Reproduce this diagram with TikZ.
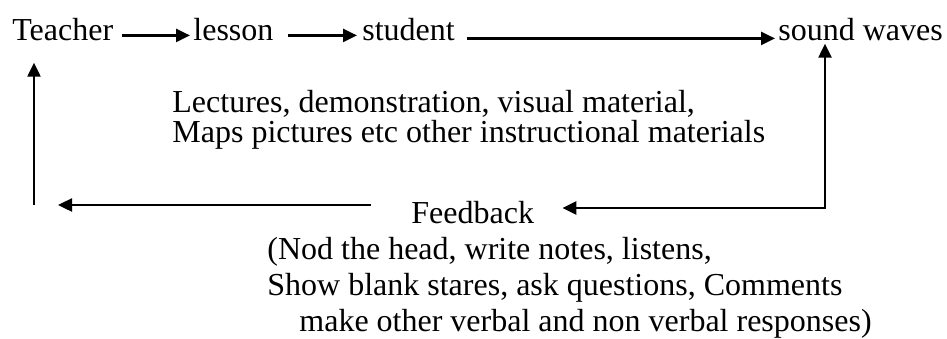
\documentclass[tikz,border=0pt]{standalone}
\usepackage{fontspec}
\setmainfont{Liberation Serif}
\usetikzlibrary{arrows.meta}

\begin{document}
\begin{tikzpicture}[x=0.5pt,y=-0.5pt,
	>={Triangle[length=7pt,width=6.5pt]},
	every node/.style={inner sep=0pt,anchor=base west,font=\fontsize{16pt}{19pt}\selectfont},
	flow/.style={->,line width=1.2pt}]

	\useasboundingbox (0,0) rectangle (947,338);

	% Node definitions.
	\node       (teacher) at (12,40)   {Teacher};
	\node        (lesson) at (193,40)  {lesson};
	\node       (student) at (362,40)  {student};
	\node         (sound) at (778,40)  {sound waves};
	\node      (lectures) at (172,112) {Lectures, demonstration, visual material,};
	\node          (maps) at (172,142) {Maps pictures etc other instructional materials};
	\node      (feedback) at (411,223) {Feedback};
	\node           (nod) at (267,259) {(Nod the head, write notes, listens,};
	\node          (show) at (267,295) {Show blank stares, ask questions, Comments};
	\node          (make) at (299,331) {make other verbal and non verbal responses)};

	% Corners.
	\coordinate (lc) at (34,205);
	\coordinate (rc) at (825,208);

	% Arrows.
	\draw[flow,shorten <=4pt,shorten >=1.5pt] (teacher.mid east) -- (lesson.mid west);
	\draw[flow,shorten <=7pt,shorten >=2.5pt] (lesson.mid east) -- (student.mid west);
	\draw[flow,shorten <=6pt,shorten >=1.5pt] ([yshift=-1.5pt]student.mid east) -- ([yshift=-1.5pt]sound.mid west);

	% Feedback loop.
	\draw[line width=1.2pt,<->] ([xshift=14pt]feedback.east |- rc) -- (rc) -- ([yshift=-1.5pt]rc |- sound.south);
	\draw[flow] ([xshift=-20pt]feedback.west |- lc) -- ([xshift=12pt]lc);
	\draw[flow] (lc) -- ([yshift=-11pt]lc |- teacher.south);

\end{tikzpicture}
\end{document}
